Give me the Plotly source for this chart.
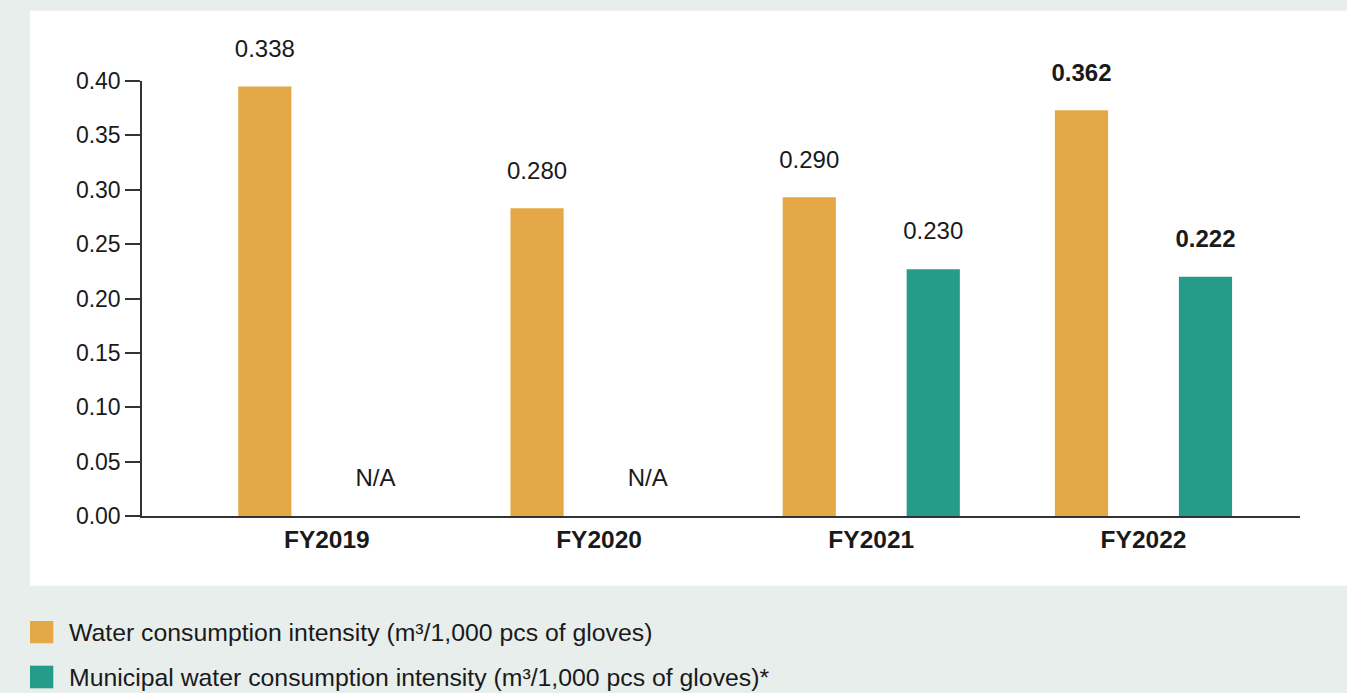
import plotly.graph_objects as go

# ---------------- data ----------------
categories = ["FY2019", "FY2020", "FY2021", "FY2022"]
water_values = [0.395, 0.283, 0.293, 0.373]
water_labels = ["0.338", "0.280", "0.290", "<b>0.362</b>"]
municipal_values = [0, 0, 0.227, 0.220]
municipal_labels = ["N/A", "N/A", "0.230", "<b>0.222</b>"]
series_names = [
    "Water consumption intensity (m³/1,000 pcs of gloves)",
    "Municipal water consumption intensity (m³/1,000 pcs of gloves)*",
]
y_tick_values = [0.00, 0.05, 0.10, 0.15, 0.20, 0.25, 0.30, 0.35, 0.40]

# ---------------- style ----------------
W, H = 1347, 693
ML, MR, MT, MB = 142, 47, 81, 177
COLORS = ["#E4A946", "#249C89"]
BG = "#E8EEEC"
TXT = "#1a1a1a"
FONT = "Liberation Sans, Arial, sans-serif"
LABEL_SIZE = 24
SPACER = "<br><span style='font-size:8px;color:rgba(0,0,0,0)'>.</span>"
HIDE = "<span style='color:rgba(0,0,0,0)'>00</span>"

PW = W - ML - MR
PH = H - MT - MB


def px_x(px):
    return (px - ML) / PW


def px_y(py):
    return (H - MB - py) / PH


def fmt(label):
    body = label + (HIDE if label == "N/A" else "")
    return "<span style='font-size:%dpx'>%s</span>%s" % (LABEL_SIZE, body, SPACER)


fig = go.Figure()
for name, vals, labels, col in [
    (series_names[0], water_values, water_labels, COLORS[0]),
    (series_names[1], municipal_values, municipal_labels, COLORS[1]),
]:
    fig.add_trace(go.Bar(
        x=categories, y=vals, name=name,
        marker=dict(color=col, line=dict(width=0)),
        text=[fmt(t) for t in labels],
        textposition="outside", cliponaxis=False, constraintext="none",
        textfont=dict(family=FONT, size=19, color=TXT),
        showlegend=False,
    ))

# panel background
shapes = [dict(type="rect", xref="paper", yref="paper", layer="below",
               x0=px_x(30), x1=px_x(1360), y0=px_y(585.7), y1=px_y(10.7),
               fillcolor="white", line=dict(width=0))]
annotations = []
# custom legend
leg_rows = [(621, 643.3), (665.7, 688.3)]
for (y0, y1), name, col in zip(leg_rows, series_names, COLORS):
    shapes.append(dict(type="rect", xref="paper", yref="paper",
                       x0=px_x(30), x1=px_x(53.3), y0=px_y(y1), y1=px_y(y0),
                       fillcolor=col, line=dict(width=0)))
    annotations.append(dict(xref="paper", yref="paper", x=px_x(66.5), y=px_y((y0 + y1) / 2),
                            xanchor="left", yanchor="middle", showarrow=False,
                            text=name, font=dict(family=FONT, size=24.8, color=TXT)))

fig.update_layout(
    width=W, height=H, autosize=False,
    margin=dict(l=ML, r=MR, t=MT, b=MB, pad=0),
    paper_bgcolor=BG, plot_bgcolor="white",
    barmode="group", bargap=0.089, bargroupgap=0.571,
    font=dict(family=FONT, color=TXT),
    shapes=shapes, annotations=annotations,
    xaxis=dict(
        type="category", range=[-0.679, 3.575],
        showline=True, linecolor="#333", linewidth=1.5,
        ticks="", showgrid=False, zeroline=False,
        tickfont=dict(family=FONT, size=24.5, color=TXT, weight="bold"),
        ticklabelstandoff=1,
    ),
    yaxis=dict(
        range=[0, 0.40], tickvals=y_tick_values, tickformat=".2f",
        showline=True, linecolor="#333", linewidth=1.5,
        ticks="outside", ticklen=15, tickwidth=1.5, tickcolor="#333",
        showgrid=False, zeroline=False,
        tickfont=dict(family=FONT, size=23, color=TXT),
    ),
)

fig.write_html("out.html")
